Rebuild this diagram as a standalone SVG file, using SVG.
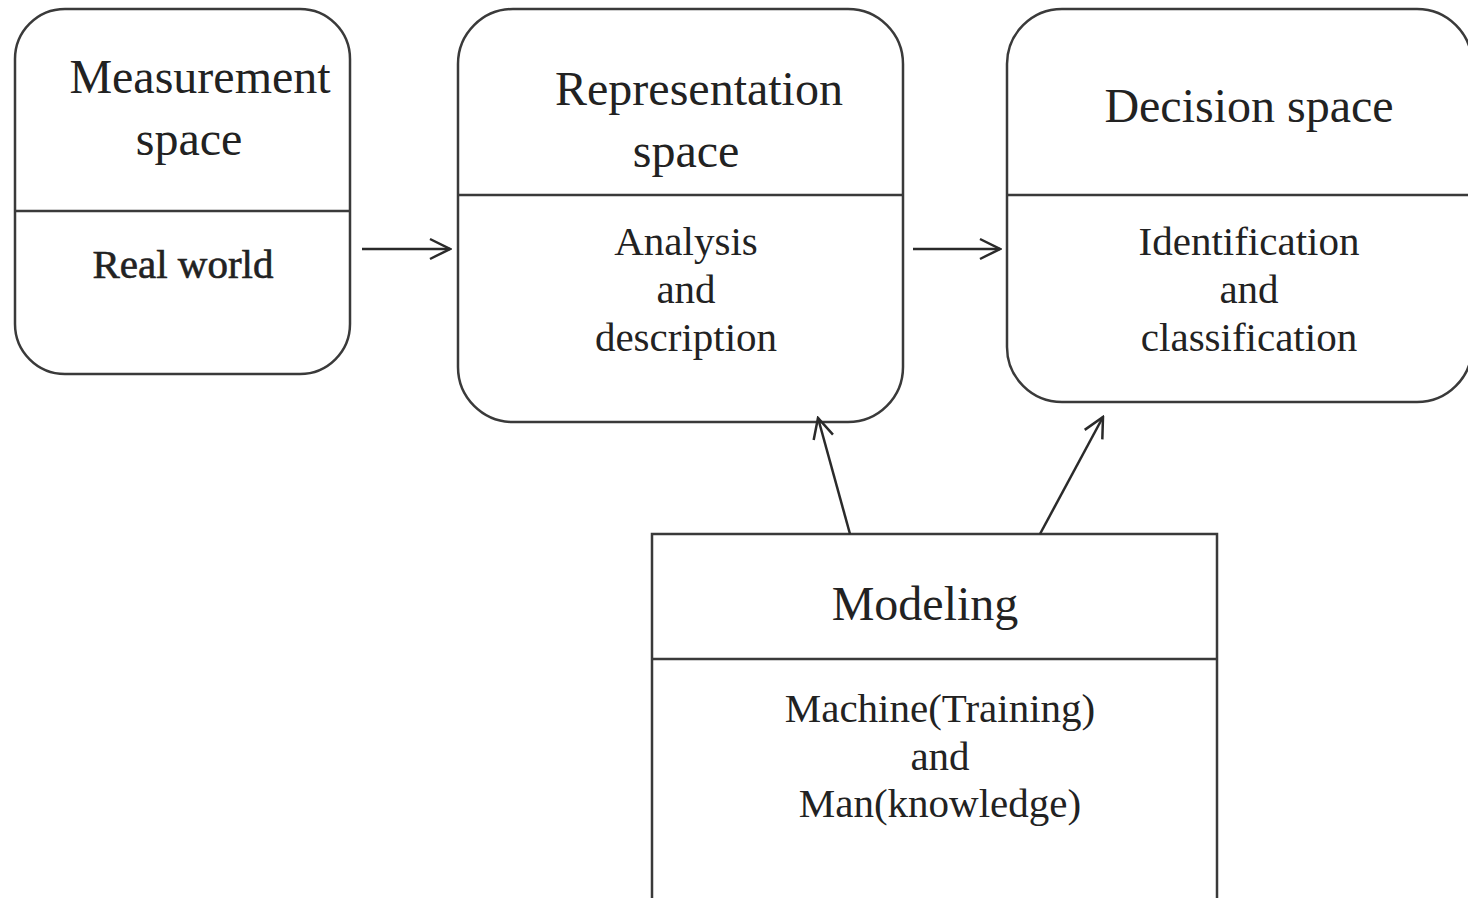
<svg xmlns="http://www.w3.org/2000/svg" width="1468" height="898" viewBox="0 0 1468 898">
  <style>
    .box { fill: #ffffff; stroke: #3a3a3a; stroke-width: 2.5; }
    .div { stroke: #3a3a3a; stroke-width: 2.5; }
    .title { font-family: "Liberation Serif", "Times New Roman", serif; font-size: 48px; fill: #222; text-anchor: middle; }
    .body { font-family: "Liberation Serif", "Times New Roman", serif; font-size: 41px; fill: #222; text-anchor: middle; }
    .edge { stroke: #2a2a2a; stroke-width: 2.5; fill: none; marker-end: url(#open); }
  </style>
  <defs>
    <!-- open V arrowhead shared by all connectors -->
    <marker id="open" viewBox="0 0 24 24" refX="22" refY="12" markerWidth="24" markerHeight="24" markerUnits="userSpaceOnUse" orient="auto">
      <path d="M2,2 L22,12 L2,22" fill="none" stroke="#2a2a2a" stroke-width="2.5"/>
    </marker>
  </defs>
  <rect width="1468" height="898" fill="#ffffff"/>

  <g id="measurement">
    <rect class="box" x="15" y="9" width="335" height="365" rx="50" ry="50"/>
    <line class="div" x1="15" y1="211" x2="350" y2="211"/>
    <text class="title" x="200" y="93">Measurement</text>
    <text class="title" x="189" y="155">space</text>
    <text class="body" x="183" y="278" style="stroke:#222;stroke-width:0.6">Real world</text>
  </g>

  <g id="representation">
    <rect class="box" x="458" y="9" width="445" height="413" rx="55" ry="55"/>
    <line class="div" x1="458" y1="195" x2="903" y2="195"/>
    <text class="title" x="699" y="105">Representation</text>
    <text class="title" x="686" y="167">space</text>
    <text class="body" x="686" y="255">Analysis</text>
    <text class="body" x="686" y="303">and</text>
    <text class="body" x="686" y="351">description</text>
  </g>

  <g id="decision">
    <rect class="box" x="1007" y="9" width="465" height="393" rx="55" ry="55"/>
    <line class="div" x1="1007" y1="195" x2="1468" y2="195"/>
    <text class="title" x="1249" y="122">Decision space</text>
    <text class="body" x="1249" y="255">Identification</text>
    <text class="body" x="1249" y="303">and</text>
    <text class="body" x="1249" y="351">classification</text>
  </g>

  <g id="modeling">
    <rect class="box" x="652" y="534" width="565" height="380"/>
    <line class="div" x1="652" y1="659" x2="1217" y2="659"/>
    <text class="title" x="925" y="620">Modeling</text>
    <text class="body" x="940" y="722">Machine(Training)</text>
    <text class="body" x="940" y="770">and</text>
    <text class="body" x="940" y="817">Man(knowledge)</text>
  </g>

  <g id="connectors">
    <line class="edge" x1="362" y1="249" x2="450" y2="249"/>
    <line class="edge" x1="913" y1="249" x2="1000" y2="249"/>
    <line class="edge" x1="850" y1="534" x2="818" y2="418"/>
    <line class="edge" x1="1040" y1="534" x2="1103" y2="417"/>
  </g>
</svg>
